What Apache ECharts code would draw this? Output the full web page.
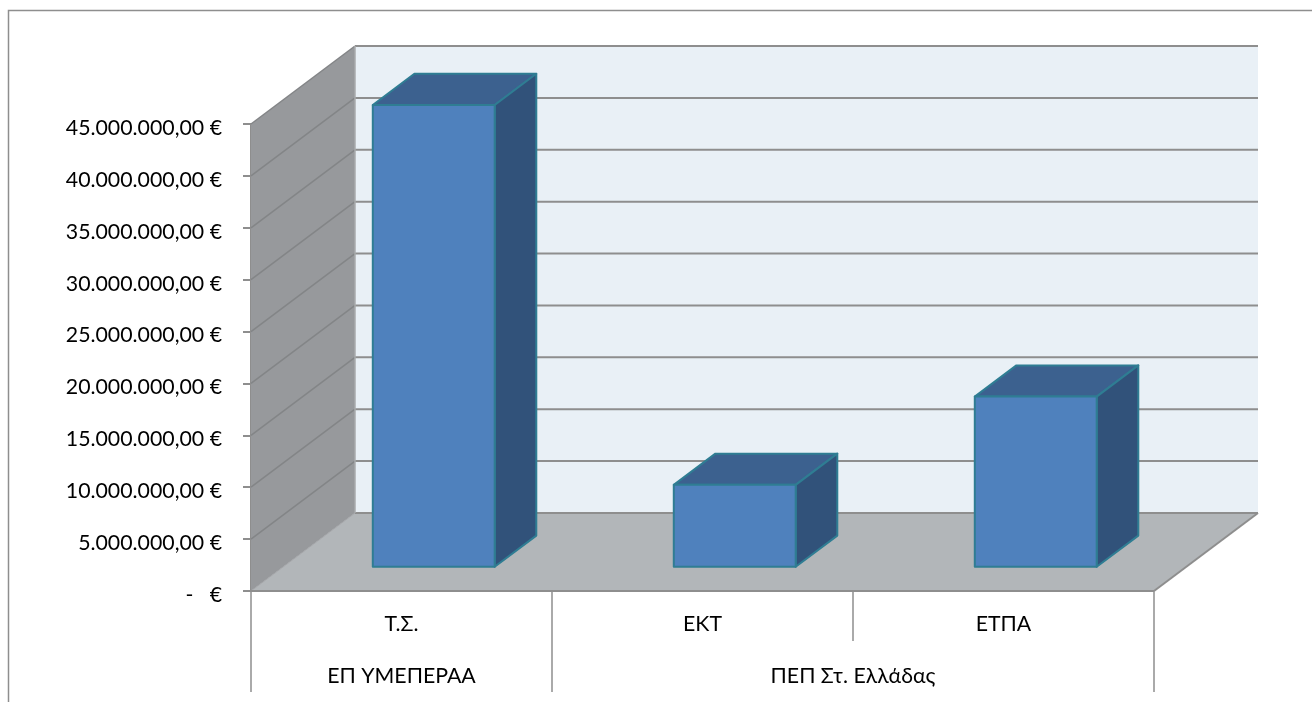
<!DOCTYPE html>
<html>
<head>
<meta charset="utf-8">
<title>Chart</title>
<script src="https://cdn.jsdelivr.net/npm/echarts@6/dist/echarts.min.js"></script>
<style>
  html, body { margin: 0; padding: 0; background: #fff; }
  #chart { width: 1312px; height: 702px; }
</style>
</head>
<body>
<div id="chart"></div>
<script>
// data
var categories = ['Τ.Σ.', 'ΕΚΤ', 'ΕΤΠΑ'];
var values = [44500000, 7900000, 16400000];
var yTicks = [0, 5000000, 10000000, 15000000, 20000000, 25000000, 30000000, 35000000, 40000000, 45000000];
var groupLabels = ['ΕΠ ΥΜΕΠΕΡΑΑ', 'ΠΕΠ Στ. Ελλάδας'];
var groupStart = [0, 1];
var groupEnd = [1, 3];

var FONT = 'Lato, "Open Sans", sans-serif';
var FONT_SIZE = 21.3;
var DEPTH_X = 104, DEPTH_Y = -78; // oblique offset of the whole plot floor
var BAR_FRONT = 0.31, BAR_BACK = 0.71, BAR_WIDTH = 0.405;

var chart = echarts.init(document.getElementById('chart'));

function moneyLabel(v) {
  if (v === 0) return '-   €';
  var s = String(v).replace(/\B(?=(\d{3})+$)/g, '.');
  return s + ',00 €';
}

function poly(points, fill, stroke, width) {
  return {
    type: 'polygon',
    shape: { points: points },
    style: { fill: fill, stroke: stroke || null, lineWidth: width || 0, lineJoin: 'round' }
  };
}

function line(x1, y1, x2, y2, color, width) {
  return {
    type: 'line',
    shape: { x1: x1, y1: y1, x2: x2, y2: y2 },
    style: { stroke: color, lineWidth: width }
  };
}

// floor, side wall, back wall and their grid lines
function renderWalls(params, api) {
  var band = api.size([1, 0])[0];
  var left = api.coord([0, 0])[0] - band / 2;
  var right = left + band * categories.length;
  var y0 = api.coord([0, 0])[1];
  var yTop = api.coord([0, yTicks[yTicks.length - 1]])[1];
  var kids = [
    poly([[left + DEPTH_X, yTop + DEPTH_Y], [right + DEPTH_X, yTop + DEPTH_Y], [right + DEPTH_X, y0 + DEPTH_Y], [left + DEPTH_X, y0 + DEPTH_Y]], '#e9f0f6'),
    poly([[left, yTop], [left + DEPTH_X, yTop + DEPTH_Y], [left + DEPTH_X, y0 + DEPTH_Y], [left, y0]], '#97999c'),
    poly([[left, y0], [right, y0], [right + DEPTH_X, y0 + DEPTH_Y], [left + DEPTH_X, y0 + DEPTH_Y]], '#b2b6b9')
  ];
  yTicks.forEach(function(t) {
    var y = api.coord([0, t])[1];
    kids.push(line(left + DEPTH_X, y + DEPTH_Y, right + DEPTH_X, y + DEPTH_Y, '#8e8e8e', 2));
    if (t > 0) kids.push(line(left, y, left + DEPTH_X, y + DEPTH_Y, '#838587', 1.5));
  });
  kids.push(line(left + DEPTH_X, yTop + DEPTH_Y, left + DEPTH_X, y0 + DEPTH_Y, '#a9abad', 1.5));
  kids.push(line(left, y0, left + DEPTH_X, y0 + DEPTH_Y, '#a3a5a8', 1));
  kids.push(line(left, y0, right, y0, '#8e8e8e', 2));
  kids.push(line(right, y0, right + DEPTH_X, y0 + DEPTH_Y, '#8e8e8e', 2));
  return { type: 'group', children: kids };
}

function renderBar(params, api) {
  var band = api.size([1, 0])[0];
  var c = api.coord([api.value(0), api.value(1)]);
  var y0 = api.coord([api.value(0), 0])[1];
  var halfW = band * BAR_WIDTH / 2;
  var offX = DEPTH_X * BAR_FRONT, offY = DEPTH_Y * BAR_FRONT;
  var dx = DEPTH_X * (BAR_BACK - BAR_FRONT), dy = DEPTH_Y * (BAR_BACK - BAR_FRONT);
  var x0 = c[0] - halfW + offX, x1 = c[0] + halfW + offX;
  var top = c[1] + offY, bot = y0 + offY;
  var edge = '#2f7d93';
  return {
    type: 'group',
    children: [
      poly([[x0, top], [x1, top], [x1 + dx, top + dy], [x0 + dx, top + dy]], '#3c618f', edge, 2),
      poly([[x1, top], [x1 + dx, top + dy], [x1 + dx, bot + dy], [x1, bot]], '#31527a', edge, 2),
      poly([[x0, top], [x1, top], [x1, bot], [x0, bot]], '#4f81bd', edge, 2)
    ]
  };
}

// second level of the category axis with its separators
function renderGroups(params, api) {
  var band = api.size([1, 0])[0];
  var i = params.dataIndex;
  var left = api.coord([0, 0])[0] - band / 2;
  var y0 = api.coord([0, 0])[1];
  var xa = left + band * api.value(0);
  var xb = left + band * api.value(1);
  var kids = [
    line(xa, y0, xa, y0 + 101, '#8e8e8e', 1.5),
    {
      type: 'text',
      style: {
        x: (xa + xb) / 2, y: y0 + 85, text: groupLabels[i],
        fill: '#000', font: FONT_SIZE + 'px ' + FONT, align: 'center', verticalAlign: 'middle'
      }
    }
  ];
  for (var k = api.value(0) + 1; k < api.value(1); k++) {
    kids.push(line(left + band * k, y0, left + band * k, y0 + 50, '#8e8e8e', 1.5));
  }
  if (i === groupLabels.length - 1) kids.push(line(xb, y0, xb, y0 + 101, '#8e8e8e', 1.5));
  return { type: 'group', children: kids };
}

chart.setOption({
  animation: false,
  backgroundColor: '#fff',
  textStyle: { fontFamily: FONT },
  grid: { left: 251, right: 158, top: 124, bottom: 111, containLabel: false },
  graphic: [{
    type: 'polyline',
    silent: true,
    shape: { points: [[8.5, 702], [8.5, 10.5], [1312, 10.5]] },
    style: { stroke: '#8e8e8e', lineWidth: 1.5, fill: null }
  }],
  xAxis: {
    type: 'category',
    data: categories,
    axisLine: { show: false },
    axisTick: { show: false },
    axisLabel: { color: '#000', fontSize: FONT_SIZE, margin: 23 }
  },
  yAxis: {
    type: 'value',
    min: 0,
    max: 45000000,
    interval: 5000000,
    axisLine: { show: true, lineStyle: { color: '#8e8e8e', width: 2 } },
    axisTick: { show: true, length: 8, lineStyle: { color: '#8e8e8e', width: 2 } },
    axisLabel: { color: '#000', fontSize: FONT_SIZE, margin: 29, lineHeight: 8, verticalAlign: 'top', formatter: moneyLabel },
    splitLine: { show: false }
  },
  series: [
    { type: 'custom', name: 'walls', silent: true, z: 1, renderItem: renderWalls, data: [[0, 0]] },
    {
      type: 'custom', name: 'bars', silent: true, z: 2, renderItem: renderBar,
      encode: { x: 0, y: 1 },
      data: values.map(function(v, i) { return [i, v]; })
    },
    {
      type: 'custom', name: 'groups', silent: true, z: 3, renderItem: renderGroups,
      data: groupLabels.map(function(g, i) { return [groupStart[i], groupEnd[i]]; })
    }
  ]
});
</script>
</body>
</html>
